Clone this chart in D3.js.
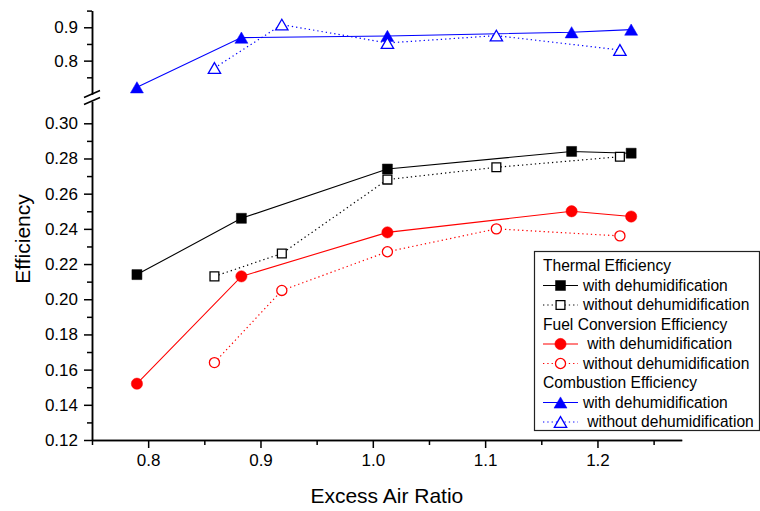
<!DOCTYPE html>
<html>
<head>
<meta charset="utf-8">
<script src="https://cdn.jsdelivr.net/npm/d3@7"></script>
<style>
  body { margin: 0; background: #fff; }
  svg { display: block; font-family: Arial, "Liberation Sans", sans-serif; }
  .axis path, .axis line { stroke: #000; stroke-width: 1.5; }
  .axis text { font-size: 17px; fill: #000; font-family: Arial, "Liberation Sans", sans-serif; }
  .legend text { font-size: 15.6px; fill: #000; white-space: pre; }
</style>
</head>
<body>
<svg id="chart" width="760" height="511"></svg>
<script>
// ── Data ──
const xWith    = [0.79, 0.883, 1.013, 1.177, 1.23];
const xWithout = [0.859, 0.919, 1.013, 1.11, 1.22];

const thermalWith    = [0.214, 0.246, 0.274, 0.284, 0.283];
const thermalWithout = [0.213, 0.226, 0.268, 0.275, 0.281];
const fuelWith       = [0.152, 0.213, 0.238, 0.250, 0.247];
const fuelWithout    = [0.164, 0.205, 0.227, 0.240, 0.236];
const combWith       = [0.720, 0.869, 0.874, 0.885, 0.893];
const combWithout    = [0.778, 0.908, 0.853, 0.875, 0.832];

const xTicks      = [0.8, 0.9, 1.0, 1.1, 1.2];
const xMinorTicks = [0.75, 0.85, 0.95, 1.05, 1.15, 1.25];
const yLowTicks      = [0.12, 0.14, 0.16, 0.18, 0.20, 0.22, 0.24, 0.26, 0.28, 0.30];
const yLowMinorTicks = [0.13, 0.15, 0.17, 0.19, 0.21, 0.23, 0.25, 0.27, 0.29];
const yUpTicks      = [0.8, 0.9];
const yUpMinorTicks = [0.75, 0.85, 0.95];

const groupTitles = ["Thermal Efficiency", "Fuel Conversion Efficiency", "Combustion Efficiency"];
const itemLabels = [
  ["with dehumidification", "without dehumidification"],
  [" with dehumidification", "without dehumidification"],
  ["with dehumidification", " without dehumidification"]
];

const xLabel = "Excess Air Ratio";
const yLabel = "Efficiency";

// ── Series table ──
const series = [
  { xs: xWith,    ys: thermalWith,    panel: "low", color: "#000", filled: true,  shape: d3.symbolSquare,   size: 100, dotted: false },
  { xs: xWithout, ys: thermalWithout, panel: "low", color: "#000", filled: false, shape: d3.symbolSquare,   size: 78,  dotted: true },
  { xs: xWith,    ys: fuelWith,       panel: "low", color: "#ff0000", filled: true,  shape: d3.symbolCircle, size: 100, dotted: false },
  { xs: xWithout, ys: fuelWithout,    panel: "low", color: "#ff0000", filled: false, shape: d3.symbolCircle, size: 80,  dotted: true },
  { xs: xWith,    ys: combWith,       panel: "up",  color: "#0000ff", filled: true,  shape: d3.symbolTriangle, size: 73, dotted: false },
  { xs: xWithout, ys: combWithout,    panel: "up",  color: "#0000ff", filled: false, shape: d3.symbolTriangle, size: 66, dotted: true }
];

// ── Scales ──
const svg = d3.select("#chart");

const x = d3.scaleLinear().domain([0.75, 1.275]).range([92, 681.7]);
const yLow = d3.scaleLinear().domain([0.12, 0.3125]).range([440, 101.3]);
const yUp = d3.scaleLinear().domain([0.7, 0.95]).range([94, 10.6]);

// ── Axes ──
svg.append("g")
  .attr("class", "axis")
  .attr("transform", "translate(0,440)")
  .call(d3.axisBottom(x).tickValues(xTicks).tickFormat(d3.format(".1f")).tickSize(8).tickSizeOuter(0).tickPadding(6));

svg.append("g")
  .attr("class", "axis")
  .attr("transform", "translate(0,440)")
  .call(d3.axisBottom(x).tickValues(xMinorTicks).tickFormat("").tickSize(5).tickSizeOuter(0));

svg.append("g")
  .attr("class", "axis")
  .attr("transform", "translate(92,0)")
  .call(d3.axisLeft(yLow).tickValues(yLowTicks).tickFormat(d3.format(".2f")).tickSize(8).tickSizeOuter(0).tickPadding(6));

svg.append("g")
  .attr("class", "axis")
  .attr("transform", "translate(92,0)")
  .call(d3.axisLeft(yLow).tickValues(yLowMinorTicks).tickFormat("").tickSize(5).tickSizeOuter(0));

svg.append("g")
  .attr("class", "axis")
  .attr("transform", "translate(92,0)")
  .call(d3.axisLeft(yUp).tickValues(yUpTicks).tickFormat(d3.format(".1f")).tickSize(8).tickSizeOuter(0).tickPadding(6));

svg.append("g")
  .attr("class", "axis")
  .attr("transform", "translate(92,0)")
  .call(d3.axisLeft(yUp).tickValues(yUpMinorTicks).tickFormat("").tickSize(5).tickSizeOuter(0));

// axis break marks
const breakG = svg.append("g").attr("stroke", "#000").attr("stroke-width", 1.6);
[0, 7].forEach(off => {
  breakG.append("line")
    .attr("x1", 84).attr("y1", 97.5 + off)
    .attr("x2", 100).attr("y2", 90.5 + off);
});

// axis titles
svg.append("text")
  .attr("x", (x.range()[0] + x.range()[1]) / 2)
  .attr("y", 503)
  .attr("text-anchor", "middle")
  .attr("font-size", 21)
  .text(xLabel);

svg.append("text")
  .attr("transform", "translate(30,239) rotate(-90)")
  .attr("text-anchor", "middle")
  .attr("font-size", 21)
  .text(yLabel);

// ── Series lines and markers ──
function markerPath(s) {
  return d3.symbol().type(s.shape).size(s.size)();
}
function triOffset(s) {
  // d3 triangles are centred on the centroid; shift to bbox centre
  if (s.shape !== d3.symbolTriangle) return 0;
  return Math.sqrt(s.size / (Math.sqrt(3) * 3)) / 2;
}

series.forEach(s => {
  const yScale = s.panel === "low" ? yLow : yUp;
  const pts = s.xs.map((xv, i) => [x(xv), yScale(s.ys[i])]);

  svg.append("path")
    .attr("d", d3.line()(pts))
    .attr("fill", "none")
    .attr("stroke", s.color)
    .attr("stroke-width", s.dotted ? 1.2 : 1.1)
    .attr("stroke-dasharray", s.dotted ? "1.3,3" : null);

  svg.append("g").selectAll("path")
    .data(pts)
    .join("path")
    .attr("transform", p => `translate(${p[0]},${p[1] + triOffset(s)})`)
    .attr("d", markerPath(s))
    .attr("fill", s.filled ? s.color : "#fff")
    .attr("stroke", s.color)
    .attr("stroke-width", s.filled ? 0.5 : 1.3);
});

// ── Legend ──
const legend = svg.append("g").attr("class", "legend");

legend.append("rect")
  .attr("x", 534.5).attr("y", 251.5)
  .attr("width", 225).attr("height", 179)
  .attr("fill", "#fff")
  .attr("stroke", "#222")
  .attr("stroke-width", 1.2);

const rowStart = 266, rowStep = 19.5;
groupTitles.forEach((title, g) => {
  const yTitle = rowStart + g * 3 * rowStep;
  legend.append("text")
    .attr("x", 543).attr("y", yTitle)
    .attr("dy", "0.35em")
    .text(title);

  [0, 1].forEach(k => {
    const s = series[g * 2 + k];
    const yRow = yTitle + (k + 1) * rowStep;
    legend.append("line")
      .attr("x1", 543).attr("x2", 578)
      .attr("y1", yRow).attr("y2", yRow)
      .attr("stroke", s.color)
      .attr("stroke-width", s.dotted ? 1.2 : 1.1)
      .attr("stroke-dasharray", s.dotted ? "1.3,3" : null);
    legend.append("path")
      .attr("transform", `translate(560.5,${yRow + triOffset(s)})`)
      .attr("d", markerPath(s))
      .attr("fill", s.filled ? s.color : "#fff")
      .attr("stroke", s.color)
      .attr("stroke-width", s.filled ? 0.5 : 1.3);
    legend.append("text")
      .attr("x", 583).attr("y", yRow)
      .attr("dy", "0.35em")
      .text(itemLabels[g][k]);
  });
});
</script>
</body>
</html>
